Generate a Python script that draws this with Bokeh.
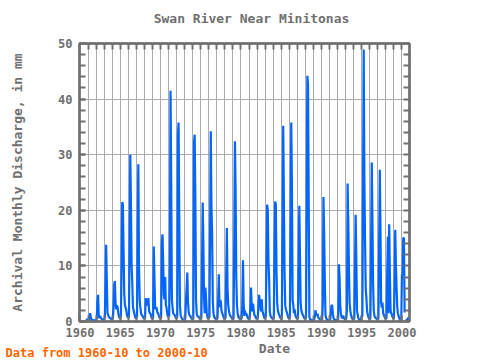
import math
from bokeh.plotting import figure
from bokeh.models import (Range1d, LinearAxis, SingleIntervalTicker, Label,
                          ColumnDataSource, Grid)
from bokeh.embed import file_html
from bokeh.resources import INLINE

NaN = float("nan")

# Monthly discharge (mm); 1960 starts in October, 2000 ends in October
q1960 = [0.3, 0.4, 0.3]
q1961 = [0.3, 0.2, 0.6, 1.5, 0.9, 0.4, 0.3, 0.2, 0.2, 0.2, 0.2, 0.2]
q1962 = [0.3, 0.5, 3.7, 4.8, 1.0, 0.6, 1.0, 0.6, 0.5, 0.4, 0.3, 0.3]
q1963 = [0.4, 0.6, 6.8, 13.8, 7.4, 1.5, 1.2, 0.8, 0.7, 0.6, 0.5, 0.4]
q1964 = [0.4, 0.5, 2.5, 6.6, 7.3, 3.5, 2.2, 2.9, 2.6, 1.6, 0.9, 0.6]
q1965 = [0.7, 0.9, 9.6, 21.5, 21.0, 12.5, 5.0, 2.9, 2.5, 2.0, 1.2, 0.8]
q1966 = [0.7, 0.8, 15.0, 30.0, 21.0, 10.0, 6.6, 2.5, 2.0, 1.5, 0.9, 0.6]
q1967 = [0.6, 0.8, 16.5, 28.3, 10.0, 4.0, 2.5, 1.5, 1.2, 1.0, 0.8, 0.6]
q1968 = [0.5, 0.6, 4.2, 3.5, 2.9, 3.2, 4.2, 2.0, 1.5, 1.5, 1.0, 0.6]
q1969 = [0.5, 0.6, 13.5, 8.0, 2.6, 2.2, 2.6, 1.8, 1.5, 1.3, 0.9, 0.6]
q1970 = [0.6, 0.7, 14.0, 15.7, 11.0, 4.8, 4.0, 8.0, 3.0, 2.5, 1.5, 0.9]
q1971 = [0.8, 1.0, 10.0, 41.5, 25.5, 4.0, 2.5, 1.5, 1.3, 1.2, 0.9, 0.6]
q1972 = [0.6, 0.8, 33.5, 35.8, 19.2, 3.0, 1.2, 0.8, 0.5, 0.4, 0.2, 0.1]
q1973 = [0.3, 0.5, 3.7, 6.0, 8.8, 3.5, 1.8, 1.2, 1.0, 0.9, 0.6, 0.4]
q1974 = [0.4, 0.5, 32.3, 33.6, 22.4, 4.0, 1.5, 1.0, 0.9, 0.8, 0.6, 0.4]
q1975 = [0.5, 0.6, 11.0, 21.4, 13.5, 3.9, 1.5, 6.1, 4.0, 1.5, 0.8, 0.5]
q1976 = [0.6, 0.8, 17.0, 34.2, 20.7, 15.8, 3.8, 1.5, 0.8, 0.6, 0.5, 0.4]
q1977 = [0.4, 0.6, 4.0, 8.5, 2.6, 3.8, 3.6, 2.0, 1.5, 1.2, 0.8, 0.5]
q1978 = [0.5, 0.6, 8.3, 16.8, 5.9, 3.0, 2.0, 1.4, 1.0, 0.9, 0.7, 0.5]
q1979 = [0.4, 0.5, 14.5, 32.4, 23.7, 8.3, 3.0, 1.5, 0.8, 0.7, 0.5, 0.4]
q1980 = [0.4, 0.5, 3.0, 11.0, 3.4, 1.0, 2.0, 1.2, 1.5, 1.0, 0.7, 0.5]
q1981 = [0.4, 0.6, 2.5, 6.1, 3.0, 1.8, 3.2, 2.0, 1.2, 1.0, 0.7, 0.5]
q1982 = [0.5, 0.6, 2.5, 4.8, 3.8, 3.0, 1.8, 4.0, 1.8, 1.5, 1.0, 0.6]
q1983 = [0.6, 0.8, 10.5, 21.0, 20.0, 11.0, 7.5, 1.8, 1.0, 0.8, 0.6, 0.5]
q1984 = [0.5, 0.6, 12.5, 21.6, 21.0, 9.0, 3.4, 2.0, 1.5, 1.2, 0.9, 0.6]
q1985 = [0.5, 0.7, 17.8, 35.2, 21.9, 9.0, 2.9, 2.2, 1.8, 1.4, 0.9, 0.6]
q1986 = [0.5, 0.7, 18.0, 35.8, 24.3, 4.0, 3.0, 1.5, 2.2, 1.2, 0.8, 0.6]
q1987 = [0.5, 0.7, 10.8, 20.8, 11.8, 3.4, 2.0, 1.6, 1.2, 1.0, 0.7, 0.5]
q1988 = [0.5, 0.7, 22.0, 44.2, 42.7, 21.7, 0.8, 0.4, 0.3, 0.3, 0.2, 0.2]
q1989 = [0.1, 0.2, 0.8, 2.0, 1.5, 1.0, 1.4, 0.8, 0.6, 0.5, 0.3, 0.2]
q1990 = [0.2, 0.3, 3.0, 22.4, 16.0, 7.5, 1.2, 0.6, 0.4, 0.3, 0.2, 0.2]
q1991 = [0.2, 0.3, 1.5, 3.0, 2.8, 1.5, 0.6, 0.4, 0.3, 0.3, 0.2, 0.2]
q1992 = [0.3, 0.5, 10.3, 8.1, 2.9, 1.5, 0.8, 0.6, 1.0, 0.8, 0.5, 0.4]
q1993 = [0.4, 0.5, 2.0, 24.8, 18.0, 9.1, 3.4, 2.0, 1.2, 0.8, 0.5, 0.4]
q1994 = [0.4, 0.6, 9.2, 19.2, 11.0, 2.0, 1.2, 0.6, 0.4, 0.3, 0.2, 0.1]
q1995 = [0.8, 1.0, 24.3, 48.9, 25.7, 14.6, 5.9, 4.2, 2.0, 1.2, 0.8, 0.5]
q1996 = [0.4, 0.5, 12.9, 28.6, 18.0, 6.9, 2.0, 1.0, 0.7, 0.6, 0.5, 0.4]
q1997 = [0.4, 0.5, 13.9, 27.3, 16.4, 3.4, 2.5, 3.4, 1.5, 1.2, 0.8, 0.6]
q1998 = [0.5, 0.6, 8.3, 15.3, 1.5, 17.5, 8.6, 2.0, 1.5, 1.2, 0.8, 0.6]
q1999 = [0.5, 6.0, 16.5, 10.2, 6.2, 2.6, 1.5, 1.0, 0.6, 0.4, 0.2, 0.2]
q2000 = [8.4, 8.4, 15.0, 15.0, 1.6, NaN, NaN, NaN, NaN, 0.3]

yearly = [q1960, q1961, q1962, q1963, q1964, q1965, q1966, q1967, q1968,
          q1969, q1970, q1971, q1972, q1973, q1974, q1975, q1976, q1977,
          q1978, q1979, q1980, q1981, q1982, q1983, q1984, q1985, q1986,
          q1987, q1988, q1989, q1990, q1991, q1992, q1993, q1994, q1995,
          q1996, q1997, q1998, q1999, q2000]
first_year = 1960
first_month = 10

title_text = "Swan River Near Minitonas"
ylabel_text = "Archival Monthly Discharge, in mm"
xlabel_text = "Date"
note_text = "Data from 1960-10 to 2000-10"

xs, ys = [], []
for i, vals in enumerate(yearly):
    yr = first_year + i
    m0 = first_month if i == 0 else 1
    for k, v in enumerate(vals):
        xs.append(yr + (m0 - 1 + k) / 12.0)
        ys.append(v)

iso_x, iso_y = [], []
for i, v in enumerate(ys):
    if math.isnan(v):
        continue
    prev_nan = i == 0 or math.isnan(ys[i - 1])
    next_nan = i == len(ys) - 1 or math.isnan(ys[i + 1])
    if prev_nan and next_nan:
        iso_x.append(xs[i])
        iso_y.append(v)

FONT = "DejaVu Sans Mono"
GRAY = "#707070"
BLUE = "#0066ff"

p = figure(width=480, height=360, output_backend="svg", toolbar_location=None,
           x_range=Range1d(1959.94, 2000.94), y_range=Range1d(0, 50),
           x_axis_type=None, y_axis_type=None,
           min_border_left=79, min_border_right=71, min_border_top=43,
           min_border_bottom=39, background_fill_color="white",
           border_fill_color="white")
p.outline_line_color = GRAY
p.outline_line_width = 2


def style_axis(ax, labels=True):
    ax.axis_line_color = GRAY
    ax.axis_line_width = 2.5
    ax.major_tick_line_color = GRAY
    ax.major_tick_line_width = 2
    ax.minor_tick_line_color = GRAY
    ax.minor_tick_line_width = 2
    ax.major_tick_in = 6
    ax.major_tick_out = 0
    ax.minor_tick_in = 6
    ax.minor_tick_out = 0
    if labels:
        ax.major_label_text_font = FONT
        ax.major_label_text_font_style = "bold"
        ax.major_label_text_font_size = "12px"
        ax.major_label_text_color = GRAY
    else:
        ax.major_label_text_color = None
        ax.major_label_text_alpha = 0
        ax.major_label_text_font_size = "1px"
        ax.major_label_standoff = 0


bottom = LinearAxis(ticker=SingleIntervalTicker(interval=5, num_minor_ticks=5))
style_axis(bottom)
bottom.major_label_standoff = 6
left = LinearAxis(ticker=SingleIntervalTicker(interval=10, num_minor_ticks=5))
style_axis(left)
left.major_label_standoff = 7
top = LinearAxis(ticker=SingleIntervalTicker(interval=1, num_minor_ticks=0))
style_axis(top, labels=False)
right = LinearAxis(ticker=SingleIntervalTicker(interval=2, num_minor_ticks=0))
style_axis(right, labels=False)
p.add_layout(bottom, "below")
p.add_layout(left, "left")
p.add_layout(top, "above")
p.add_layout(right, "right")

p.add_layout(Grid(dimension=0, ticker=SingleIntervalTicker(interval=1),
                  grid_line_color="#aaaaaa", grid_line_width=1))
p.add_layout(Grid(dimension=1, ticker=SingleIntervalTicker(interval=10),
                  grid_line_color="#aaaaaa", grid_line_width=1))

src = ColumnDataSource(data=dict(x=xs, y=ys))
p.line(x="x", y="y", source=src, line_color=BLUE, line_width=2.2)
p.scatter(x=iso_x, y=iso_y, marker="cross", size=5, line_color=BLUE,
          line_width=2)

# Texts outside the frame live in side panels (so they are not clipped);
# positions in data units (1 yr ~ 8.05 px, 1 mm ~ 5.56 px). The panels are
# spread over the sides so that none outgrows its border.
p.add_layout(Label(x=1981.31, y=54.5, text=title_text, text_font=FONT,
                   text_font_style="bold", text_font_size="13px",
                   text_color=GRAY, text_align="center",
                   text_baseline="middle"), "above")
p.add_layout(Label(x=1952.24, y=25.0, text=ylabel_text, text_font=FONT,
                   text_font_style="bold", text_font_size="13px",
                   text_color=GRAY, text_align="center",
                   text_baseline="middle", angle=math.pi / 2), "left")
p.add_layout(Label(x=1984.17, y=-4.86, text=xlabel_text, text_font=FONT,
                   text_font_style="bold", text_font_size="13px",
                   text_color=GRAY, text_align="center",
                   text_baseline="middle"), "above")
p.add_layout(Label(x=1950.75, y=-5.58, text=note_text, text_font=FONT,
                   text_font_style="bold", text_font_size="12px",
                   text_color="#ff6600", text_align="left",
                   text_baseline="middle"), "below")

open("out.html", "w").write(file_html(p, INLINE))
